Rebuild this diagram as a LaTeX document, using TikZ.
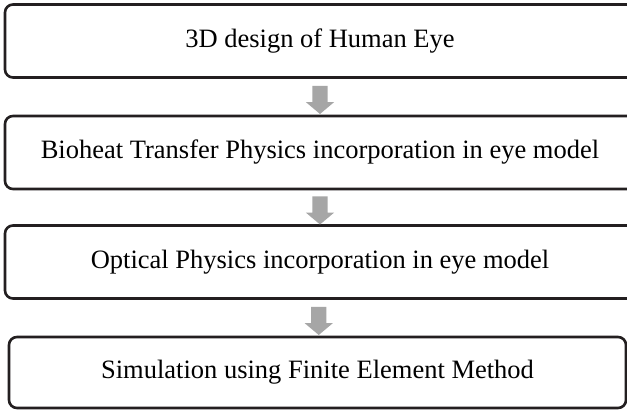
\documentclass[tikz,border=0pt]{standalone}
\usepackage{fontspec}
\setmainfont{Liberation Serif}
\usetikzlibrary{shapes.arrows}
\definecolor{boxline}{HTML}{231F20}
\definecolor{arrowgray}{HTML}{A6A6A6}
\tikzset{
  stepbox/.style={draw=boxline, line width=2.6pt, rounded corners=8pt, fill=white,
    minimum height=73pt, inner sep=0pt, font=\fontsize{26.5}{30}\selectfont},
  blockarrow/.style={single arrow, fill=arrowgray, draw=none, shape border rotate=270,
    minimum height=28pt, minimum width=28pt, inner sep=7.5pt, single arrow tip angle=100,
    single arrow head extend=6.5pt}
}
\begin{document}
\begin{tikzpicture}[x=1pt,y=-1pt]
\clip (0,0) rectangle (627,411);
\fill[white] (0,0) rectangle (627,411);
\node[stepbox, minimum width=630pt] (b1) at (320,41) {3D design of Human Eye};
\node[stepbox, minimum width=630pt] (b2) at (320,152.5) {Bioheat Transfer Physics incorporation in eye model};
\node[stepbox, minimum width=630pt] (b3) at (320,262) {Optical Physics incorporation in eye model};
\node[stepbox, minimum width=617pt, minimum height=71pt] (b4) at (317.5,372.5) {Simulation using Finite Element Method};
\path (b1.south) -- (b2.north) node[midway, blockarrow] (a1) {};
\path (b2.south) -- (b3.north) node[midway, blockarrow] (a2) {};
\path (b3.south) -- (b4.north) node[midway, blockarrow] (a3) {};
\end{tikzpicture}
\end{document}
